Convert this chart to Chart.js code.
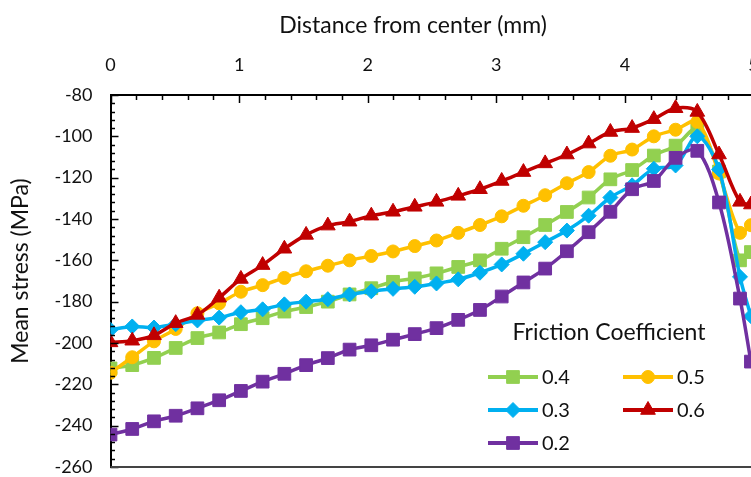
<!DOCTYPE html>
<html>
<head>
<meta charset="utf-8">
<script src="https://cdn.jsdelivr.net/npm/chart.js@4.4.1/dist/chart.umd.min.js"></script>
<style>
  html, body { margin: 0; padding: 0; background: #fff; overflow: hidden; }
  #wrap { width: 751px; height: 477px; overflow: hidden; }
</style>
</head>
<body>
<div id="wrap"><canvas id="c" width="800" height="477"></canvas></div>
<script>
// distance from center (mm), shared by all series
const distance = [0, 0.169, 0.338, 0.507, 0.676, 0.845, 1.014, 1.183, 1.352, 1.521, 1.69, 1.859, 2.028, 2.197, 2.366,
  2.535, 2.704, 2.873, 3.042, 3.211, 3.38, 3.549, 3.718, 3.887, 4.056, 4.225, 4.394, 4.563, 4.732, 4.895, 4.98];

// mean stress (MPa) per friction coefficient
const mu04 = [-212.3, -210.7, -207.2, -202.4, -197.6, -194.9, -190.9, -188.0, -184.8, -182.6, -180.0, -176.5, -173.5, -170.4, -168.7,
  -166.3, -163.2, -160.0, -154.4, -148.8, -142.9, -136.6, -129.6, -120.8, -116.3, -109.3, -104.5, -96.5, -117.0, -160.0, -156.0];
const mu05 = [-214.4, -206.9, -199.2, -193.2, -185.6, -180.8, -175.2, -172.0, -168.5, -165.3, -162.6, -160.0, -157.9, -155.7, -153.1,
  -150.4, -146.7, -142.9, -138.7, -133.6, -128.5, -122.7, -117.3, -109.4, -106.4, -100.0, -96.8, -93.0, -118.0, -146.7, -143.0];
const mu03 = [-193.6, -192.0, -192.5, -190.9, -189.1, -187.7, -185.1, -183.7, -181.3, -180.0, -178.8, -176.5, -175.0, -173.8, -172.8,
  -171.2, -169.2, -166.0, -162.0, -156.8, -151.2, -145.6, -138.4, -129.6, -123.7, -115.7, -114.1, -100.0, -116.0, -168.0, -187.0];
const mu06 = [-199.7, -198.9, -196.3, -190.4, -186.4, -178.1, -169.0, -162.3, -154.4, -147.7, -143.2, -141.3, -138.4, -136.5, -134.1,
  -131.7, -128.8, -125.6, -121.6, -117.3, -113.1, -108.8, -103.5, -97.9, -96.0, -91.7, -86.4, -88.2, -108.8, -131.7, -133.0];
const mu02 = [-244.3, -241.6, -237.9, -235.2, -231.6, -227.7, -223.2, -218.7, -214.9, -210.7, -207.3, -203.2, -201.1, -198.4, -195.7,
  -192.8, -188.8, -184.0, -177.5, -170.7, -164.0, -155.6, -146.4, -136.5, -125.6, -121.6, -110.4, -107.0, -132.0, -178.5, -209.0];

const xTicks = [0, 1, 2, 3, 4, 5];
const yTicks = [-80, -100, -120, -140, -160, -180, -200, -220, -240, -260];

const FONT = "Lato, 'Open Sans', sans-serif";
const INK = "#111";

// Excel-like series styling, legend order as in the original
const series = [
  { label: "0.4", data: mu04, color: "#92D050", style: "rect", r: 9, order: 5 },
  { label: "0.5", data: mu05, color: "#FFC000", style: "circle", r: 6.5, order: 4 },
  { label: "0.3", data: mu03, color: "#00B0F0", style: "rectRot", r: 7.5, order: 3 },
  { label: "0.6", data: mu06, color: "#C00000", style: "triangle", r: 8.5, order: 2 },
  { label: "0.2", data: mu02, color: "#7030A0", style: "rect", r: 9, order: 1 }
];

// titles, inner tick marks, bottom frame line and the in-plot legend
const decor = {
  id: "decor",
  afterDraw(chart) {
    const { ctx, chartArea: a, scales: { x, y } } = chart;
    ctx.save();
    ctx.strokeStyle = "#000";
    ctx.lineWidth = 1.5;
    for (let i = 0; i <= 25; i++) {
      const px = Math.round(x.getPixelForValue(i * 0.2)) + 0.5;
      ctx.beginPath();
      ctx.moveTo(px, a.top);
      ctx.lineTo(px, a.top + (i % 5 === 0 ? 8 : 5));
      ctx.stroke();
    }
    for (let i = 0; i <= 45; i++) {
      const py = Math.round(y.getPixelForValue(-80 - i * 4)) + 0.5;
      ctx.beginPath();
      ctx.moveTo(a.left, py);
      ctx.lineTo(a.left + (i % 5 === 0 ? 8 : 4.5), py);
      ctx.stroke();
    }
    ctx.strokeStyle = "#444";
    ctx.lineWidth = 2;
    ctx.beginPath();
    ctx.moveTo(a.left, a.bottom);
    ctx.lineTo(a.right, a.bottom);
    ctx.stroke();

    ctx.fillStyle = INK;
    ctx.font = "23px " + FONT;
    ctx.textAlign = "center";
    ctx.textBaseline = "alphabetic";
    ctx.fillText("Distance from center (mm)", 413, 33);
    ctx.save();
    ctx.translate(28, 271);
    ctx.rotate(-Math.PI / 2);
    ctx.fillText("Mean stress (MPa)", 0, 0);
    ctx.restore();

    // legend
    ctx.textBaseline = "middle";
    ctx.fillText("Friction Coefficient", 609, 333);
    ctx.font = "20px " + FONT;
    const slots = [[513, 377], [648, 377], [513, 410], [648, 410], [513, 443]];
    ctx.textAlign = "left";
    series.forEach((s, i) => {
      const [cx, cy] = slots[i];
      ctx.strokeStyle = s.color;
      ctx.fillStyle = s.color;
      ctx.lineWidth = 4;
      ctx.beginPath();
      ctx.moveTo(cx - 25, cy);
      ctx.lineTo(cx + 25, cy);
      ctx.stroke();
      ctx.lineWidth = 1;
      Chart.helpers.drawPoint(ctx, { pointStyle: s.style, radius: s.r, rotation: 0, borderWidth: 1 }, cx, cy);
      ctx.fillStyle = INK;
      ctx.fillText(s.label, cx + 29, cy + 1);
    });
    ctx.restore();
  }
};

new Chart(document.getElementById("c"), {
  type: "line",
  data: {
    datasets: series.map(s => ({
      label: s.label,
      data: distance.map((d, i) => ({ x: d, y: s.data[i] })),
      borderColor: s.color,
      backgroundColor: s.color,
      borderWidth: 3.5,
      tension: 0.33,
      pointStyle: s.style,
      pointRadius: s.r,
      pointBackgroundColor: s.color,
      pointBorderColor: s.color,
      pointBorderWidth: 1,
      order: s.order
    }))
  },
  options: {
    responsive: false,
    animation: false,
    events: [],
    layout: { padding: { left: 0, top: 0, right: 46.5, bottom: 8 } },
    plugins: { legend: { display: false }, tooltip: { enabled: false } },
    scales: {
      x: {
        type: "linear",
        position: "top",
        min: 0,
        max: 5,
        grid: { display: false, drawTicks: false },
        border: { display: true, color: "#000", width: 2 },
        afterBuildTicks: sc => { sc.ticks = xTicks.map(v => ({ value: v })); },
        afterFit: sc => { sc.height = 95; sc.paddingLeft = 0; sc.paddingRight = 0; },
        ticks: { color: INK, font: { family: FONT, size: 18 }, padding: 19, maxRotation: 0 }
      },
      y: {
        min: -260,
        max: -80,
        grid: { display: false, drawTicks: false },
        border: { display: true, color: "#000", width: 2 },
        afterBuildTicks: sc => { sc.ticks = yTicks.map(v => ({ value: v })); },
        afterFit: sc => { sc.width = 110.5; sc.paddingTop = 0; sc.paddingBottom = 0; },
        ticks: { color: INK, font: { family: FONT, size: 18 }, padding: 18 }
      }
    }
  },
  plugins: [decor]
});
</script>
</body>
</html>
